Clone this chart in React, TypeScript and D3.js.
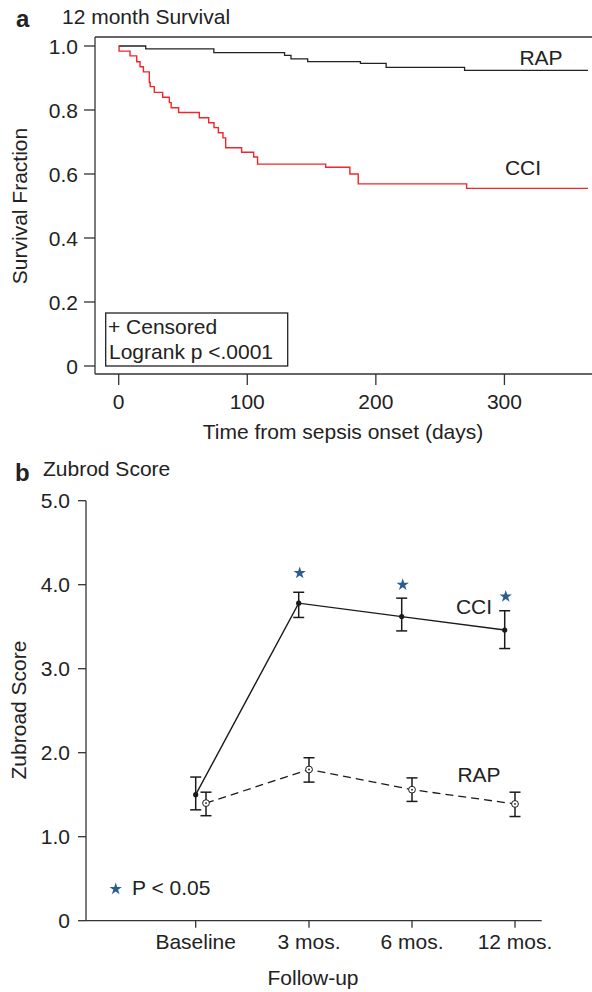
import React from "react";
import * as d3 from "d3";

// ---------- Panel a: Kaplan-Meier survival ----------
const rapTimes = [0, 21, 74, 129, 134, 147, 188, 208, 269, 365];
const rapSurv = [1.0, 0.991, 0.979, 0.971, 0.96, 0.951, 0.946, 0.933, 0.924, 0.924];

const cciTimes = [0, 0.3, 8.8, 14, 16.6, 19.2, 23.8, 24.5, 27.7, 34.2, 39.4, 40.8, 46.6, 62.7, 70, 74.1, 77.5, 81.1, 83.2, 95.6, 105, 108, 161, 179.8, 186.3, 270.6, 365];
const cciSurv = [1.0, 0.984, 0.969, 0.951, 0.935, 0.919, 0.886, 0.873, 0.855, 0.84, 0.823, 0.807, 0.792, 0.776, 0.76, 0.745, 0.729, 0.713, 0.682, 0.668, 0.653, 0.631, 0.621, 0.6, 0.569, 0.555, 0.555];

const survYTicks = [0, 0.2, 0.4, 0.6, 0.8, 1.0];
const survYTickLabels = ["0", "0.2", "0.4", "0.6", "0.8", "1.0"];
const survXTicks = [0, 100, 200, 300];

// ---------- Panel b: Zubrod score ----------
const categories = ["Baseline", "3 mos.", "6 mos.", "12 mos."];
const cciMean = [1.5, 3.78, 3.62, 3.46];
const cciLow = [1.32, 3.61, 3.45, 3.24];
const cciHigh = [1.71, 3.91, 3.84, 3.69];
const rapMean = [1.4, 1.8, 1.56, 1.39];
const rapLow = [1.25, 1.65, 1.42, 1.24];
const rapHigh = [1.53, 1.94, 1.7, 1.53];
const starValues = [null, 4.14, 4.0, 3.86];
const zYTicks = [0, 1, 2, 3, 4, 5];
const zYTickLabels = ["0", "1.0", "2.0", "3.0", "4.0", "5.0"];
// category positions (CCI drawn slightly left of RAP; baseline tick sits on CCI)
const cciPos = [-0.1, 0.9, 1.9, 2.9];
const rapPos = [0, 1, 2, 3];
const tickPos = [-0.1, 1, 2, 3];

const FONT = "'Liberation Sans', Arial, Helvetica, sans-serif";
const TXT = "#222";
const AX = "#333";
const FS = 21;

export default function App() {
  // panel a scales
  const xa = d3.scaleLinear().domain([0, 365]).range([118.7, 588]);
  const ya = d3.scaleLinear().domain([0, 1]).range([366, 46]);
  const step = d3
    .line<[number, number]>()
    .x((d) => xa(d[0]))
    .y((d) => ya(d[1]))
    .curve(d3.curveStepAfter);
  const rapPath = step(rapTimes.map((t, i) => [t, rapSurv[i]]))!;
  const cciPath = step(cciTimes.map((t, i) => [t, cciSurv[i]]))!;

  // panel b scales
  const xb = d3.scaleLinear().domain([0, 3]).range([206, 515]);
  const yb = d3.scaleLinear().domain([0, 5]).range([920.7, 500.7]);
  const lin = d3
    .line<[number, number]>()
    .x((d) => xb(d[0]))
    .y((d) => yb(d[1]));
  const cciLine = lin(cciPos.map((p, i) => [p, cciMean[i]]))!;
  const rapLine = lin(rapPos.map((p, i) => [p, rapMean[i]]))!;
  const star = d3.symbol().type(d3.symbolStar).size(48)()!;
  const cap = 5.5;

  return (
    <svg
      width={592}
      height={992}
      style={{ position: "absolute", left: 0, top: 0, background: "#fff" }}
      fontFamily={FONT}
    >
      {/* ===== Panel a ===== */}
      <text x={16} y={27} fontSize={24} fontWeight="bold" fill={TXT}>a</text>
      <text x={62} y={23.5} fontSize={FS} fill={TXT}>12 month Survival</text>

      {/* frame */}
      <line x1={95} y1={37} x2={592} y2={37} stroke={AX} strokeWidth={1.3} />
      <line x1={95} y1={37} x2={95} y2={374} stroke={AX} strokeWidth={1.3} />
      <line x1={95} y1={374} x2={592} y2={374} stroke={AX} strokeWidth={1.3} />

      {survYTicks.map((v, i) => (
        <g key={"ya" + i}>
          <line x1={84} x2={95} y1={ya(v)} y2={ya(v)} stroke={AX} strokeWidth={1.3} />
          <text x={78} y={ya(v) + 7.5} fontSize={FS} textAnchor="end" fill={TXT}>
            {survYTickLabels[i]}
          </text>
        </g>
      ))}
      {survXTicks.map((v, i) => (
        <g key={"xa" + i}>
          <line x1={xa(v)} x2={xa(v)} y1={374} y2={385} stroke={AX} strokeWidth={1.3} />
          <text x={xa(v)} y={409} fontSize={FS} textAnchor="middle" fill={TXT}>
            {v}
          </text>
        </g>
      ))}
      <text x={343} y={439} fontSize={FS} textAnchor="middle" fill={TXT}>
        Time from sepsis onset (days)
      </text>
      <text
        transform={`translate(26.5,206) rotate(-90)`}
        fontSize={FS}
        textAnchor="middle"
        fill={TXT}
      >
        Survival Fraction
      </text>

      <path d={rapPath} fill="none" stroke="#222" strokeWidth={1.3} />
      <path d={cciPath} fill="none" stroke="#f0262b" strokeWidth={1.4} />

      <text x={541} y={65} fontSize={FS} textAnchor="middle" fill={TXT}>RAP</text>
      <text x={523} y={175} fontSize={FS} textAnchor="middle" fill={TXT}>CCI</text>

      <rect x={105.7} y={313} width={182} height={53} fill="#fff" stroke="#222" strokeWidth={1.3} />
      <text x={108} y={334} fontSize={FS} fill={TXT}>+ Censored</text>
      <text x={109} y={359} fontSize={FS} fill={TXT}>Logrank p &lt;.0001</text>

      {/* ===== Panel b ===== */}
      <text x={15} y={481} fontSize={24} fontWeight="bold" fill={TXT}>b</text>
      <text x={43} y={476} fontSize={FS} fill={TXT}>Zubrod Score</text>

      <line x1={86} y1={yb(5)} x2={86} y2={yb(0)} stroke={AX} strokeWidth={1.3} />
      <line x1={86} y1={yb(0)} x2={541.7} y2={yb(0)} stroke={AX} strokeWidth={1.3} />
      {zYTicks.map((v, i) => (
        <g key={"yb" + i}>
          <line x1={78} x2={86} y1={yb(v)} y2={yb(v)} stroke={AX} strokeWidth={1.3} />
          <text x={70} y={yb(v) + 7.5} fontSize={FS} textAnchor="end" fill={TXT}>
            {zYTickLabels[i]}
          </text>
        </g>
      ))}
      {categories.map((c, i) => (
        <g key={"xb" + i}>
          <line x1={xb(tickPos[i])} x2={xb(tickPos[i])} y1={yb(0)} y2={yb(0) + 7} stroke={AX} strokeWidth={1.3} />
          <text x={xb(tickPos[i])} y={949} fontSize={FS} textAnchor="middle" fill={TXT}>
            {c}
          </text>
        </g>
      ))}
      <text x={313} y={985} fontSize={FS} textAnchor="middle" fill={TXT}>Follow-up</text>
      <text
        transform={`translate(26,710) rotate(-90)`}
        fontSize={FS}
        textAnchor="middle"
        fill={TXT}
      >
        Zubroad Score
      </text>

      {/* lines */}
      <path d={cciLine} fill="none" stroke="#1a1a1a" strokeWidth={1.4} />
      <path d={rapLine} fill="none" stroke="#1a1a1a" strokeWidth={1.3} strokeDasharray="8,5" />

      {/* error bars */}
      {cciPos.map((p, i) => (
        <g key={"ec" + i} stroke="#1a1a1a" strokeWidth={1.5}>
          <line x1={xb(p)} x2={xb(p)} y1={yb(cciLow[i])} y2={yb(cciHigh[i])} />
          <line x1={xb(p) - cap} x2={xb(p) + cap} y1={yb(cciLow[i])} y2={yb(cciLow[i])} />
          <line x1={xb(p) - cap} x2={xb(p) + cap} y1={yb(cciHigh[i])} y2={yb(cciHigh[i])} />
        </g>
      ))}
      {rapPos.map((p, i) => (
        <g key={"er" + i} stroke="#1a1a1a" strokeWidth={1.5}>
          <line x1={xb(p)} x2={xb(p)} y1={yb(rapLow[i])} y2={yb(rapHigh[i])} />
          <line x1={xb(p) - cap} x2={xb(p) + cap} y1={yb(rapLow[i])} y2={yb(rapLow[i])} />
          <line x1={xb(p) - cap} x2={xb(p) + cap} y1={yb(rapHigh[i])} y2={yb(rapHigh[i])} />
        </g>
      ))}

      {/* markers */}
      {cciPos.map((p, i) => (
        <circle key={"mc" + i} cx={xb(p)} cy={yb(cciMean[i])} r={2.6} fill="#1a1a1a" />
      ))}
      {rapPos.map((p, i) => (
        <g key={"mr" + i}>
          <circle cx={xb(p)} cy={yb(rapMean[i])} r={3.4} fill="#fff" stroke="#1a1a1a" strokeWidth={1} />
          <circle cx={xb(p)} cy={yb(rapMean[i])} r={0.9} fill="#1a1a1a" />
        </g>
      ))}

      {/* significance stars */}
      {starValues.map((v, i) =>
        v == null ? null : (
          <path key={"st" + i} d={star} transform={`translate(${xb(cciPos[i]) + 1},${yb(v)})`} fill="#2c5d8f" />
        )
      )}

      <text x={474} y={614} fontSize={FS} textAnchor="middle" fill={TXT}>CCI</text>
      <text x={479} y={782} fontSize={FS} textAnchor="middle" fill={TXT}>RAP</text>

      {/* legend */}
      <path d={star} transform="translate(115.7,889)" fill="#2c5d8f" />
      <text x={132} y={895} fontSize={FS} fill={TXT}>P &lt; 0.05</text>
    </svg>
  );
}
